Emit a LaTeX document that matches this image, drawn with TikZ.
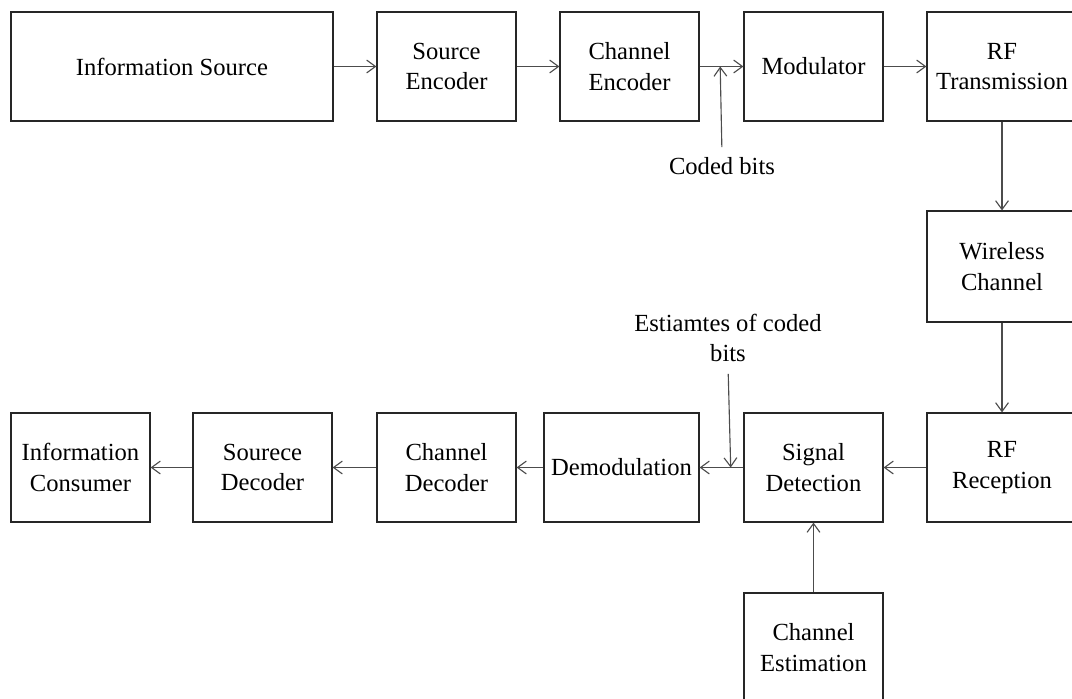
\documentclass[tikz,border=0pt]{standalone}
\usepackage{fontspec}
\setmainfont{Liberation Serif}
\usetikzlibrary{arrows.meta,positioning}
\tikzset{
  blk/.style={rectangle, draw=black!85, line width=0.8pt, align=center,
              minimum width=3.475cm, minimum height=2.725cm, inner sep=1pt,
              font=\fontsize{17.5}{21.5}\selectfont},
  lbl/.style={align=center, inner sep=2pt, font=\fontsize{17.5}{21.5}\selectfont},
  ed/.style={-{Straight Barb[length=2.2mm,width=3.2mm]}, draw=black!70, line width=0.8pt}
}

\begin{document}
\begin{tikzpicture}[x=0.025cm,y=-0.025cm]
\useasboundingbox (0,0) rectangle (1072,698);
% transmitter row
\node[blk, minimum width=8.05cm] (src) at (172,66.5) {Information Source};
\node[blk] (senc) at (446.5,66.5) {Source\\Encoder};
\node[blk] (cenc) at (629.5,66.5) {Channel\\Encoder};
\node[blk] (mod)  at (813.5,66.5) {Modulator};
\node[blk, minimum width=3.75cm] (rftx) at (1002,66.5) {RF\\Transmission};
\node[blk, minimum width=3.75cm, minimum height=2.775cm] (wch) at (1002,266.5) {Wireless\\Channel};
% receiver row
\node[blk, minimum width=3.75cm] (rfrx) at (1002,467.5) {RF\\Reception};
\node[blk] (sig)  at (813.5,467.5) {Signal\\Detection};
\node[blk, minimum width=3.875cm] (demod) at (621.5,467.5) {Demodulation};
\node[blk] (cdec) at (446.5,467.5) {Channel\\Decoder};
\node[blk] (sdec) at (262.5,467.5) {Sourece\\Decoder};
\node[blk] (cons) at (80.5,467.5) {Information\\Consumer};
\node[blk] (cest) at (813.5,647.5) {Channel\\Estimation};
% labels
\node[lbl] (cblbl)  at (722,166) {Coded bits};
\node[lbl] (estlbl) at (728,338) {Estiamtes of coded\\bits};

\draw[ed] (src) -- (senc);
\draw[ed] (senc) -- (cenc);
\draw[ed] (cenc) -- (mod) coordinate[pos=0.47] (cb);
\draw[ed] (mod) -- (rftx);
\draw[ed] (rftx) -- (wch);
\draw[ed] (wch) -- (rfrx);
\draw[ed] (rfrx) -- (sig);
\draw[ed] (sig) -- (demod) coordinate[pos=0.29] (ec);
\draw[ed] (demod) -- (cdec);
\draw[ed] (cdec) -- (sdec);
\draw[ed] (sdec) -- (cons);
\draw[ed] (cest) -- (sig);
\draw[ed, shorten <=1.8mm] (cblbl.north) -- (cb);
\draw[ed, shorten <=2.2mm] (estlbl.south) -- (ec);
\end{tikzpicture}
\end{document}
